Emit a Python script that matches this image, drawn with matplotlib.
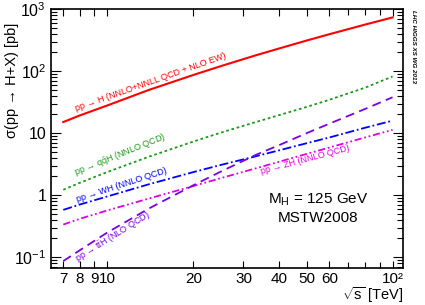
import matplotlib
matplotlib.use("Agg")
import matplotlib.pyplot as plt
from matplotlib.ticker import FixedLocator, NullFormatter

plt.rcParams['font.family'] = ['Liberation Sans', 'DejaVu Sans']
plt.rcParams['mathtext.fontset'] = 'custom'
plt.rcParams['mathtext.rm'] = 'Liberation Sans'
plt.rcParams['mathtext.it'] = 'Liberation Sans:italic'

# centre-of-mass energies [TeV]
sqrt_s = [7, 8, 10, 14, 20, 25, 33, 40, 50, 60, 80, 100]

# cross sections [pb], M_H = 125 GeV
xs_ggh = [15.1, 19.3, 28.0, 49.9, 86.7, 120.6, 179, 232, 312, 394, 563, 735]
xs_vbf = [1.22, 1.58, 2.36, 4.18, 7.3, 10.2, 15.0, 19.5, 26.5, 34.5, 54, 82]
xs_wh = [0.578, 0.705, 0.953, 1.50, 2.35, 3.07, 4.21, 5.28, 6.88, 8.5, 12.2, 15.9]
xs_zh = [0.335, 0.415, 0.567, 0.883, 1.40, 1.88, 2.69, 3.45, 4.63, 5.85, 8.5, 11.3]
xs_tth = [0.0863, 0.129, 0.25, 0.611, 1.44, 2.40, 4.42, 6.4, 10.0, 14.2, 24.5, 37.9]

x_major = [7, 8, 9, 10, 20, 30, 40, 50, 60, 100]
x_major_labels = ['7', '8', '9', '10', '20', '30', '40', '50', '60', '10²']
x_minor = [70, 80, 90]

fig = plt.figure(figsize=(4.25, 3.05), dpi=100)
ax = fig.add_axes([0.12, 0.121, 0.828, 0.849])

ax.plot(sqrt_s, xs_ggh, color='#ff0000', lw=1.5, ls='-')
ax.plot(sqrt_s, xs_vbf, color='#1a9a1a', lw=1.3, ls=(0, (1.5, 1.5)))
ax.plot(sqrt_s, xs_wh, color='#0000ff', lw=1.3, ls=(0, (5, 1.5, 1, 1.5)))
ax.plot(sqrt_s, xs_zh, color='#e000e0', lw=1.3, ls=(0, (4, 1.5, 1, 1.5, 1, 1.5)))
ax.plot(sqrt_s, xs_tth, color='#7a00e6', lw=1.3, ls=(0, (5, 3)))

ax.set_xscale('log')
ax.set_yscale('log')
ax.set_xlim(6.34, 108.7)
ax.set_ylim(0.0665, 1000)

ax.xaxis.set_major_locator(FixedLocator(x_major))
ax.set_xticklabels(x_major_labels)
ax.xaxis.set_minor_locator(FixedLocator(x_minor))
ax.xaxis.set_minor_formatter(NullFormatter())
ax.set_yticks([0.1, 1, 10, 100, 1000])
ax.set_yticklabels([r'$10^{-1}$', '1', '10', r'$10^2$', r'$10^3$'])

ax.tick_params(which='both', direction='in', top=True, right=True, labelsize=11.5)
ax.tick_params(which='major', length=7, width=0.8)
ax.tick_params(which='minor', length=4, width=0.8)
ax.tick_params(axis='x', which='major', length=5, pad=3, labelsize=11)
ax.tick_params(axis='x', which='minor', length=4)
for sp in ax.spines.values():
    sp.set_linewidth(1.2)

ax.set_ylabel('σ(pp → H+X) [pb]', fontsize=10.5)
ax.yaxis.set_label_coords(-0.092, 0.725)
ax.set_xlabel(r'$\sqrt{\rm s}$ [TeV]', fontsize=10.5, ha='right', va='bottom')
ax.xaxis.set_label_coords(1.0, -0.142)

lab = dict(fontsize=6.5, rotation_mode='anchor', ha='left', va='bottom')
ax.text(7.8, 21, 'pp → H (NNLO+NNLL QCD + NLO EW)', color='#ff0000', rotation=19.5, **lab)
ax.text(7.85, 1.85, r'pp → q$\bar{\rm q}$H (NNLO QCD)', color='#1a9a1a', rotation=22, **lab)
ax.text(7.9, 0.73, 'pp → WH (NNLO QCD)', color='#0000ff', rotation=18, **lab)
ax.text(34.8, 2.0, 'pp → ZH (NNLO QCD)', color='#e000e0', rotation=15, **lab)
ax.text(8.0, 0.073, r'pp → t$\bar{\rm t}$H (NLO QCD)', color='#7a00e6', rotation=32, **lab)

ax.text(0.759, 0.263, r'M$_{\rm H}$ = 125 GeV', transform=ax.transAxes, ha='center', va='center', fontsize=11)
ax.text(0.759, 0.193, 'MSTW2008', transform=ax.transAxes, ha='center', va='center', fontsize=11)

fig.text(0.972, 0.846, 'LHC HIGGS XS WG 2013', rotation=-90, ha='center', va='center',
         fontsize=4.5, fontweight='bold', fontstyle='italic')

fig.savefig('out.png', dpi=100)
